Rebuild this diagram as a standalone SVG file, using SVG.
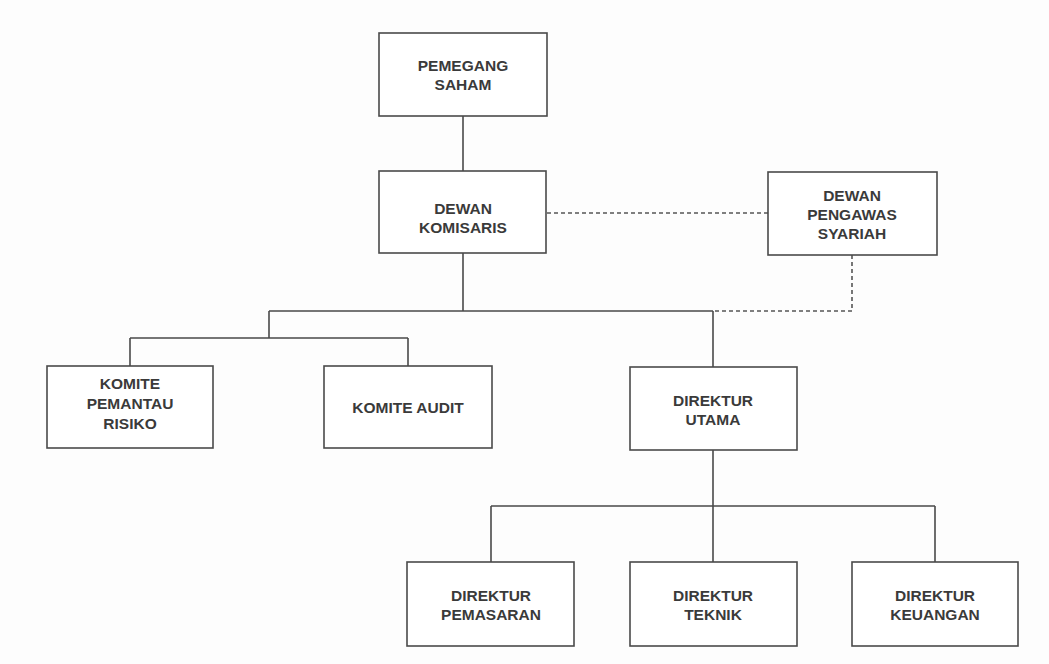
<svg xmlns="http://www.w3.org/2000/svg" width="1049" height="664" viewBox="0 0 1049 664">
<style>
.box{fill:#fff;stroke:#4a4a4a;stroke-width:1.6}
.t{font-family:"Liberation Sans",Arial,sans-serif;font-weight:bold;font-size:15.5px;fill:#3a3a3a;text-anchor:middle}
.ln{fill:none;stroke:#4a4a4a;stroke-width:1.6}
.dash{fill:none;stroke:#555;stroke-width:1.6;stroke-dasharray:4 3}
</style>
<rect width="1049" height="664" fill="#fdfdfd"/>
<g id="connectors">
<path class="ln" d="M463 116V171"/>
<path class="ln" d="M463 253V311M269 311H713M713 311V367"/>
<path class="ln" d="M269 311V338M130 338H408M130 338V366M408 338V366"/>
<path class="ln" d="M713 450V506M491 506H935M491 506V562M713 506V562M935 506V562"/>
<path class="dash" d="M547 213H768"/>
<path class="dash" d="M852 255V311H713"/>
</g>
<g id="pemegang-saham"><rect class="box" x="379" y="33" width="168" height="83"/><text class="t" x="463" y="71">PEMEGANG</text><text class="t" x="463" y="90">SAHAM</text></g>
<g id="dewan-komisaris"><rect class="box" x="379" y="171" width="167" height="82"/><text class="t" x="463" y="214">DEWAN</text><text class="t" x="463" y="233">KOMISARIS</text></g>
<g id="dewan-pengawas-syariah"><rect class="box" x="768" y="172" width="169" height="83"/><text class="t" x="852" y="201">DEWAN</text><text class="t" x="852" y="220">PENGAWAS</text><text class="t" x="852" y="239">SYARIAH</text></g>
<g id="komite-pemantau-risiko"><rect class="box" x="47" y="366" width="166" height="82"/><text class="t" x="130" y="389">KOMITE</text><text class="t" x="130" y="409">PEMANTAU</text><text class="t" x="130" y="429">RISIKO</text></g>
<g id="komite-audit"><rect class="box" x="324" y="366" width="168" height="82"/><text class="t" x="408" y="413">KOMITE AUDIT</text></g>
<g id="direktur-utama"><rect class="box" x="630" y="367" width="167" height="83"/><text class="t" x="713" y="406">DIREKTUR</text><text class="t" x="713" y="425">UTAMA</text></g>
<g id="direktur-pemasaran"><rect class="box" x="407" y="562" width="167" height="84"/><text class="t" x="491" y="601">DIREKTUR</text><text class="t" x="491" y="620">PEMASARAN</text></g>
<g id="direktur-teknik"><rect class="box" x="630" y="562" width="167" height="84"/><text class="t" x="713" y="601">DIREKTUR</text><text class="t" x="713" y="620">TEKNIK</text></g>
<g id="direktur-keuangan"><rect class="box" x="852" y="562" width="166" height="84"/><text class="t" x="935" y="601">DIREKTUR</text><text class="t" x="935" y="620">KEUANGAN</text></g>
</svg>
